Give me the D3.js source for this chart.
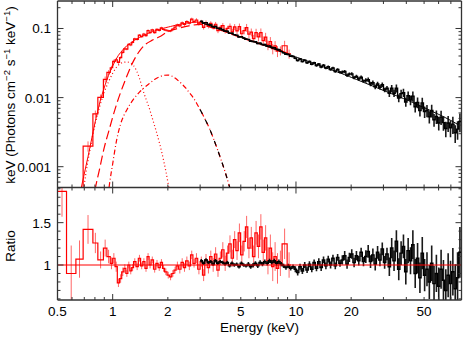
<!DOCTYPE html>
<html>
<head>
<meta charset="utf-8">
<script src="https://cdn.jsdelivr.net/npm/d3@7"></script>
<style>
html, body { margin: 0; padding: 0; background: #fff; }
svg { display: block; font-family: "Liberation Sans", Arial, Helvetica, sans-serif; }
</style>
</head>
<body>
<div id="chart"></div>
<script>
// soft X-ray spectrum (red): bin edges, folded model per bin, data/model ratio, 1-sigma error on ratio
var redEdges = [0.50, 0.56, 0.63, 0.69, 0.78, 0.83, 0.89, 0.93, 0.97, 1.00,
  1.03, 1.06, 1.09, 1.12, 1.15, 1.18, 1.21, 1.24, 1.27, 1.30,
  1.34, 1.38, 1.42, 1.46, 1.50, 1.54, 1.58, 1.62, 1.67, 1.72,
  1.77, 1.82, 1.87, 1.92, 1.98, 2.04, 2.10, 2.16, 2.22, 2.29,
  2.36, 2.43, 2.50, 2.58, 2.66, 2.74, 2.82, 2.91, 3.00, 3.09,
  3.18, 3.28, 3.38, 3.48, 3.59, 3.70, 3.81, 3.93, 4.05, 4.17,
  4.30, 4.43, 4.56, 4.70, 4.84, 4.99, 5.14, 5.30, 5.46, 5.62,
  5.79, 5.97, 6.15, 6.34, 6.53, 6.73, 6.93, 7.14, 7.36, 7.58,
  7.81, 8.05, 8.40, 8.95, 9.40];
var redModel = [0.00006, 0.00015, 0.00038, 0.0014, 0.0046, 0.0095, 0.0153, 0.021, 0.0265, 0.031,
  0.036, 0.041, 0.045, 0.049, 0.053, 0.056, 0.059, 0.062, 0.065, 0.068,
  0.071, 0.074, 0.077, 0.080, 0.082, 0.085, 0.087, 0.090, 0.092, 0.095,
  0.097, 0.099, 0.101, 0.103, 0.105, 0.107, 0.109, 0.111, 0.113, 0.115,
  0.117, 0.118, 0.120, 0.121, 0.122, 0.123, 0.123, 0.123, 0.121, 0.118,
  0.115, 0.111, 0.108, 0.105, 0.102, 0.099, 0.096, 0.093, 0.091, 0.088,
  0.086, 0.083, 0.081, 0.079, 0.077, 0.075, 0.073, 0.071, 0.069, 0.067,
  0.065, 0.063, 0.062, 0.060, 0.058, 0.057, 0.055, 0.054, 0.052, 0.051,
  0.049, 0.047, 0.045, 0.043];
var redRatio = [1.87, 0.90, 1.07, 1.42, 1.26, 1.06, 1.20, 1.10, 1.02, 1.08,
  0.98, 0.79, 0.84, 0.92, 0.96, 0.90, 1.00, 0.93, 0.97, 1.04,
  0.98, 1.08, 0.99, 1.04, 0.96, 1.10, 1.00, 1.06, 0.95, 1.02,
  0.97, 1.03, 0.96, 0.92, 0.88, 0.86, 0.90, 0.94, 0.99, 0.95,
  1.03, 0.97, 1.05, 0.99, 1.12, 1.02, 1.08, 0.95, 1.04, 0.88,
  1.06, 0.97, 1.10, 1.00, 1.13, 0.94, 1.08, 1.18, 1.02, 1.14,
  1.25, 1.08, 1.30, 1.17, 1.38, 1.12, 1.28, 1.45, 1.20, 1.32,
  1.10, 1.38, 1.22, 1.45, 1.15, 1.32, 1.05, 1.20, 0.98, 1.10,
  0.96, 1.02, 1.25, 1.00];
var redErr = [0.30, 0.33, 0.22, 0.17, 0.12, 0.10, 0.10, 0.08, 0.07, 0.06,
  0.06, 0.05, 0.05, 0.05, 0.05, 0.04, 0.04, 0.04, 0.04, 0.04,
  0.04, 0.04, 0.04, 0.04, 0.04, 0.04, 0.04, 0.04, 0.04, 0.04,
  0.04, 0.04, 0.04, 0.04, 0.04, 0.04, 0.04, 0.04, 0.05, 0.05,
  0.05, 0.05, 0.05, 0.05, 0.05, 0.05, 0.06, 0.06, 0.06, 0.07,
  0.07, 0.07, 0.07, 0.08, 0.08, 0.08, 0.08, 0.09, 0.09, 0.09,
  0.10, 0.10, 0.10, 0.11, 0.11, 0.11, 0.12, 0.13, 0.12, 0.13,
  0.13, 0.14, 0.14, 0.15, 0.15, 0.15, 0.16, 0.16, 0.17, 0.17,
  0.18, 0.15, 0.18, 0.15];

// hard X-ray spectrum (black)
var blackEdges = [3.00, 3.09, 3.18, 3.28, 3.38, 3.48, 3.58, 3.69, 3.80, 3.92,
  4.04, 4.16, 4.28, 4.41, 4.54, 4.68, 4.82, 4.96, 5.11, 5.26,
  5.42, 5.58, 5.75, 5.92, 6.10, 6.28, 6.47, 6.66, 6.86, 7.07,
  7.28, 7.50, 7.72, 7.95, 8.19, 8.44, 8.69, 8.95, 9.22, 9.50,
  9.78, 10.07, 10.37, 10.68, 11.00, 11.33, 11.67, 12.02, 12.38, 12.75,
  13.13, 13.52, 13.93, 14.35, 14.78, 15.22, 15.68, 16.15, 16.63, 17.13,
  17.64, 18.17, 18.72, 19.28, 19.86, 20.45, 21.06, 21.69, 22.34, 23.01,
  23.70, 24.41, 25.14, 25.89, 26.67, 27.47, 28.29, 29.14, 30.01, 30.91,
  31.84, 32.80, 33.78, 34.79, 35.84, 36.91, 38.02, 39.16, 40.33, 41.54,
  42.79, 44.07, 45.39, 46.76, 48.16, 49.60, 51.09, 52.62, 54.20, 55.83,
  57.50, 59.23, 61.00, 62.83, 64.72, 66.66, 68.66, 70.72, 72.84, 75.03,
  77.28, 79.60];
var blackModel = [0.1213, 0.1179, 0.1146, 0.1113, 0.1082, 0.1052, 0.1023, 0.0994, 0.0966, 0.0938,
  0.0911, 0.0887, 0.0862, 0.0838, 0.0814, 0.0791, 0.0770, 0.0748, 0.0728, 0.0707,
  0.0688, 0.0668, 0.0650, 0.0631, 0.0614, 0.0597, 0.0580, 0.0564, 0.0548, 0.0533,
  0.0518, 0.0503, 0.0490, 0.0476, 0.0462, 0.0449, 0.0437, 0.0425, 0.0413, 0.0401,
  0.0390, 0.0379, 0.0369, 0.0358, 0.0348, 0.0339, 0.0329, 0.0320, 0.0311, 0.0302,
  0.0294, 0.0286, 0.0278, 0.0270, 0.0262, 0.0255, 0.0248, 0.0241, 0.0234, 0.0228,
  0.0221, 0.02145, 0.02078, 0.02013, 0.01950, 0.01889, 0.01830, 0.01772, 0.01717, 0.01663,
  0.01611, 0.01561, 0.01512, 0.01465, 0.01419, 0.01374, 0.01332, 0.01290, 0.01250, 0.01211,
  0.01173, 0.01136, 0.01100, 0.01066, 0.01033, 0.01000, 0.00969, 0.00939, 0.00910, 0.00878,
  0.00848, 0.00818, 0.00790, 0.00762, 0.00736, 0.00711, 0.00686, 0.00661, 0.00637, 0.00614,
  0.00592, 0.00571, 0.00550, 0.00530, 0.00509, 0.00488, 0.00469, 0.00449, 0.00430, 0.00411,
  0.00393];
var blackRatio = [1.05, 1.02, 1.06, 1.03, 1.04, 1.01, 1.05, 1.02, 1.04, 1.03,
  1.01, 1.03, 0.99, 1.02, 1.00, 1.01, 0.98, 1.02, 1.00, 0.99,
  1.01, 0.98, 1.00, 1.02, 0.99, 1.03, 1.01, 1.04, 1.02, 1.05,
  1.03, 1.05, 1.02, 1.04, 1.01, 0.99, 0.97, 0.99, 0.96, 0.98,
  0.95, 0.91, 0.98, 0.93, 1.00, 0.94, 1.01, 0.95, 1.03, 0.96,
  1.04, 0.97, 1.06, 0.99, 1.07, 1.00, 1.08, 0.99, 1.09, 1.02,
  1.06, 1.11, 1.01, 1.09, 1.13, 1.03, 1.11, 1.05, 1.15, 1.04,
  1.10, 1.16, 1.04, 1.12, 1.01, 1.15, 1.06, 1.19, 1.03, 1.13,
  0.98, 1.20, 1.05, 1.28, 0.95, 1.14, 1.22, 0.92, 1.17, 1.05,
  1.24, 0.90, 1.08, 0.85, 1.14, 0.88, 0.95, 0.80, 1.02, 0.78,
  0.90, 0.75, 0.95, 0.82, 0.70, 0.88, 0.78, 0.92, 0.72, 0.85,
  1.15];
var blackErr = [0.02, 0.02, 0.02, 0.02, 0.02, 0.02, 0.02, 0.02, 0.02, 0.02,
  0.02, 0.02, 0.02, 0.02, 0.02, 0.02, 0.02, 0.02, 0.02, 0.02,
  0.025, 0.025, 0.025, 0.025, 0.025, 0.025, 0.025, 0.025, 0.025, 0.025,
  0.025, 0.025, 0.025, 0.025, 0.025, 0.025, 0.025, 0.025, 0.025, 0.025,
  0.035, 0.035, 0.035, 0.035, 0.035, 0.035, 0.035, 0.035, 0.035, 0.035,
  0.04, 0.04, 0.04, 0.04, 0.04, 0.04, 0.04, 0.04, 0.04, 0.04,
  0.055, 0.055, 0.055, 0.055, 0.055, 0.055, 0.055, 0.055, 0.055, 0.055,
  0.075, 0.075, 0.075, 0.075, 0.075, 0.075, 0.075, 0.075, 0.075, 0.075,
  0.11, 0.12, 0.12, 0.13, 0.13, 0.14, 0.14, 0.15, 0.15, 0.16,
  0.17, 0.17, 0.18, 0.18, 0.19, 0.19, 0.20, 0.20, 0.21, 0.21,
  0.22, 0.22, 0.23, 0.24, 0.25, 0.26, 0.27, 0.28, 0.29, 0.30,
  0.30];

// model components
var dottedE = [0.68, 0.70, 0.75, 0.80, 0.85, 0.90, 0.95, 1.00, 1.05, 1.10, 1.15, 1.20, 1.25, 1.30,
  1.35, 1.40, 1.46, 1.52, 1.59, 1.65, 1.72, 1.80, 1.90, 2.00, 2.05];
var dottedV = [0.0003, 0.00055, 0.0017, 0.0040, 0.0075, 0.0120, 0.0170, 0.0225, 0.0275, 0.0310, 0.0325, 0.0327, 0.0318, 0.0290,
  0.0245, 0.0190, 0.0130, 0.0095, 0.0068, 0.0049, 0.0034, 0.0022, 0.0012, 0.0006, 0.0004];
var dashdotE = [0.94, 0.96, 1.00, 1.05, 1.10, 1.20, 1.30, 1.40, 1.50, 1.60, 1.70, 1.80, 1.90, 2.00, 2.10,
  2.20, 2.30, 2.40, 2.50, 2.62, 2.75, 2.87, 3.00, 3.20, 3.40, 3.60, 3.85, 4.10, 4.35, 4.45];
var dashdotV = [0.00035, 0.00055, 0.0011, 0.0024, 0.0040, 0.0068, 0.0095, 0.0120, 0.0142, 0.0163, 0.0185, 0.0200, 0.0210, 0.0212, 0.0205,
  0.0190, 0.0172, 0.0155, 0.0138, 0.0118, 0.0100, 0.0083, 0.0067, 0.0048, 0.0034, 0.0023, 0.0014, 0.00085, 0.0005, 0.0004];
var dashedE = [0.78, 0.80, 0.85, 0.90, 0.95, 1.00, 1.05, 1.10, 1.20, 1.30, 1.40, 1.50, 1.65, 1.80, 2.00,
  2.30, 2.60, 3.00, 3.50, 4.00, 5.00, 6.00, 7.00, 8.00, 9.40];
var dashedV = [0.0003, 0.00045, 0.00095, 0.0019, 0.0032, 0.0052, 0.0080, 0.0115, 0.021, 0.034, 0.047, 0.058, 0.068, 0.076, 0.090,
  0.101, 0.109, 0.115, 0.102, 0.092, 0.074, 0.063, 0.055, 0.049, 0.042];

var xTickLabels = [0.5, 1, 2, 5, 10, 20, 50];
var yTickLabels = [0.001, 0.01, 0.1];
var ratioTickLabels = [1, 1.5];

var width = 463, height = 340;
var left = 57.5, right = 461.5, topY = 1, mid = 187.5, bottom = 300;
var axisColor = '#333';

var svg = d3.select('#chart').append('svg')
  .attr('width', width)
  .attr('height', height);

var x = d3.scaleLog().domain([0.5, 80]).range([left, right]);
var y = d3.scaleLog().domain([5e-4, 0.25]).range([mid, topY]);
var yr = d3.scaleLinear().domain([0.587, 1.915]).range([bottom, mid]);

var defs = svg.append('defs');
defs.append('clipPath').attr('id', 'clipTop').append('rect')
  .attr('x', left).attr('y', topY).attr('width', right - left).attr('height', mid - topY);
defs.append('clipPath').attr('id', 'clipBot').append('rect')
  .attr('x', left).attr('y', mid).attr('width', right - left).attr('height', bottom - mid);

function makeBins(edges, model, ratio, err) {
  return model.map(function(m, i) {
    return { lo: edges[i], hi: edges[i + 1], c: Math.sqrt(edges[i] * edges[i + 1]),
      m: m, r: ratio[i], e: err[i], f: m * ratio[i] };
  });
}
var redBins = makeBins(redEdges, redModel, redRatio, redErr);
var blackBins = makeBins(blackEdges, blackModel, blackRatio, blackErr);

function stepPath(bins, val, ys) {
  var p = '';
  bins.forEach(function(d, i) {
    var yy = ys(val(d));
    p += (i === 0 ? 'M' : 'L') + x(d.lo) + ',' + yy + 'L' + x(d.hi) + ',' + yy;
  });
  return p;
}
function errPath(bins, lo, hi, ys) {
  var p = '';
  bins.forEach(function(d) {
    p += 'M' + x(d.c) + ',' + ys(lo(d)) + 'V' + ys(hi(d));
  });
  return p;
}

var gTop = svg.append('g').attr('clip-path', 'url(#clipTop)');
var gBot = svg.append('g').attr('clip-path', 'url(#clipBot)');

function drawSpectrum(bins, color, errOpacity, errWidth, stepWidth) {
  gTop.append('path')
    .attr('d', errPath(bins, function(d) { return d.f * (1 - d.e); }, function(d) { return d.f * (1 + d.e); }, y))
    .attr('fill', 'none').attr('stroke', color).attr('stroke-width', errWidth).attr('opacity', errOpacity);
  gTop.append('path')
    .attr('d', stepPath(bins, function(d) { return d.f; }, y))
    .attr('fill', 'none').attr('stroke', color).attr('stroke-width', stepWidth);
  gTop.append('path')
    .datum(bins)
    .attr('d', d3.line().x(function(d) { return x(d.c); }).y(function(d) { return y(d.m); }))
    .attr('fill', 'none').attr('stroke', color).attr('stroke-width', 1);

  gBot.append('path')
    .attr('d', errPath(bins, function(d) { return d.r - d.e; }, function(d) { return d.r + d.e; }, yr))
    .attr('fill', 'none').attr('stroke', color).attr('stroke-width', errWidth).attr('opacity', errOpacity);
  gBot.append('path')
    .attr('d', stepPath(bins, function(d) { return d.r; }, yr))
    .attr('fill', 'none').attr('stroke', color).attr('stroke-width', stepWidth);
}

function drawComponent(es, vs, color, dash) {
  var pts = es.map(function(e, i) { return [e, vs[i]]; });
  gTop.append('path')
    .datum(pts)
    .attr('d', d3.line().curve(d3.curveMonotoneX)
      .x(function(d) { return x(d[0]); }).y(function(d) { return y(d[1]); }))
    .attr('fill', 'none').attr('stroke', color).attr('stroke-width', 1.2)
    .attr('stroke-dasharray', dash);
}

drawSpectrum(redBins, '#ff0000', 0.6, 1, 1.2);
drawComponent(dottedE, dottedV, '#ff0000', '1,2.5');
drawComponent(dashdotE, dashdotV, '#ff0000', '5,2.5,1,2.5');
drawComponent(dashedE, dashedV, '#ff0000', '9,4');
drawSpectrum(blackBins, '#000000', 0.9, 1.6, 1.4);
// the hard-band copy of the warm component shows from 3 keV
var ddHard = dashdotE.map(function(e, i) { return [e, dashdotV[i]]; }).filter(function(d) { return d[0] >= 3; });
drawComponent(ddHard.map(function(d) { return d[0]; }), ddHard.map(function(d) { return d[1]; }), '#000000', '5,6.5');

// ratio = 1 reference line
gBot.append('line')
  .attr('x1', left).attr('x2', right).attr('y1', yr(1)).attr('y2', yr(1))
  .attr('stroke', '#ff0000').attr('stroke-width', 1);

// frame
[[left, topY, right, topY], [left, bottom, right, bottom], [left, mid, right, mid],
 [left, topY, left, bottom], [right, topY, right, bottom]].forEach(function(l) {
  svg.append('line').attr('x1', l[0]).attr('y1', l[1]).attr('x2', l[2]).attr('y2', l[3])
    .attr('stroke', axisColor).attr('stroke-width', 1.3);
});

function tick(x1, y1, x2, y2) {
  svg.append('line').attr('x1', x1).attr('y1', y1).attr('x2', x2).attr('y2', y2)
    .attr('stroke', axisColor).attr('stroke-width', 1);
}
function isDecade(t) {
  var l = Math.log10(t);
  return Math.abs(l - Math.round(l)) < 1e-6;
}

x.ticks().forEach(function(t) {
  var len = isDecade(t) ? 6 : 3, px = x(t);
  tick(px, topY, px, topY + len);
  tick(px, mid, px, mid - len);
  tick(px, mid, px, mid + len);
  tick(px, bottom, px, bottom - len);
});
y.ticks().forEach(function(t) {
  var len = isDecade(t) ? 6 : 3, py = y(t);
  tick(left, py, left + len, py);
  tick(right, py, right - len, py);
});
yr.ticks(14).forEach(function(t) {
  var len = (Math.abs(t - 1) < 1e-6 || Math.abs(t - 1.5) < 1e-6) ? 6 : 3, py = yr(t);
  tick(left, py, left + len, py);
  tick(right, py, right - len, py);
});

var fontSize = 13.5;
svg.selectAll('.xlab').data(xTickLabels).enter().append('text')
  .attr('x', function(d) { return x(d); }).attr('y', 316)
  .attr('text-anchor', 'middle').attr('font-size', fontSize)
  .text(function(d) { return d; });
svg.selectAll('.ylab').data(yTickLabels).enter().append('text')
  .attr('x', 51).attr('y', function(d) { return y(d) + 5; })
  .attr('text-anchor', 'end').attr('font-size', fontSize)
  .text(function(d) { return d; });
svg.selectAll('.rlab').data(ratioTickLabels).enter().append('text')
  .attr('x', 51).attr('y', function(d) { return yr(d) + 5; })
  .attr('text-anchor', 'end').attr('font-size', fontSize)
  .text(function(d) { return d; });

svg.append('text')
  .attr('x', (left + right) / 2).attr('y', 332)
  .attr('text-anchor', 'middle').attr('font-size', fontSize)
  .text('Energy (keV)');

svg.append('text')
  .attr('transform', 'translate(15,246) rotate(-90)')
  .attr('text-anchor', 'middle').attr('font-size', fontSize)
  .text('Ratio');

var yTitle = svg.append('text')
  .attr('transform', 'translate(15,95) rotate(-90)')
  .attr('text-anchor', 'middle').attr('font-size', fontSize);
yTitle.append('tspan').text('keV (Photons cm');
yTitle.append('tspan').attr('dy', -5).attr('font-size', 9.5).text('\u22122');
yTitle.append('tspan').attr('dy', 5).text(' s');
yTitle.append('tspan').attr('dy', -5).attr('font-size', 9.5).text('\u22121');
yTitle.append('tspan').attr('dy', 5).text(' keV');
yTitle.append('tspan').attr('dy', -5).attr('font-size', 9.5).text('\u22121');
yTitle.append('tspan').attr('dy', 5).text(')');
</script>
</body>
</html>
